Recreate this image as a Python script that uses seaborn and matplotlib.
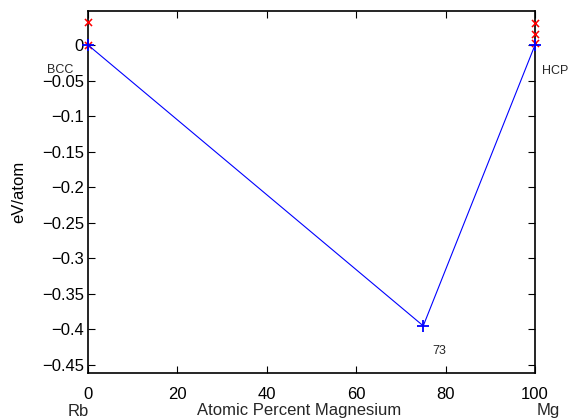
import matplotlib
matplotlib.use("Agg")
import matplotlib.pyplot as plt
import seaborn as sns
import pandas as pd

# Convex hull of formation energies (Rb-Mg)
hull_x = [0, 75, 100]
hull_e = [0.0, -0.395, 0.0]

# Structures above the hull
above_x = [0, 0, 100, 100, 100]
above_e = [0.033, 0.0, 0.031, 0.0155, 0.0025]

yticks = [0, -0.05, -0.1, -0.15, -0.2, -0.25, -0.3, -0.35, -0.4, -0.45]
xticks = [0, 20, 40, 60, 80, 100]

sns.set_theme(style="white")
plt.rcParams["font.family"] = ["Liberation Sans", "DejaVu Sans"]

W, H = 572, 420
fig = plt.figure(figsize=(W / 100, H / 100), dpi=100)
left, right, top, bottom = 88, 535, 11, 373
ax = fig.add_axes([left / W, 1 - bottom / H, (right - left) / W, (bottom - top) / H])

hull_df = pd.DataFrame({"x": hull_x, "e": hull_e})
above_df = pd.DataFrame({"x": above_x, "e": above_e})

sns.scatterplot(data=above_df, x="x", y="e", ax=ax, marker="x", color="red",
                s=26, linewidth=1.1, zorder=3, clip_on=False)
sns.lineplot(data=hull_df, x="x", y="e", ax=ax, color="blue", linewidth=0.8,
             marker="+", markersize=9, markeredgewidth=1.3, markeredgecolor="blue",
             zorder=4, clip_on=False)

ax.set_xlim(0, 100)
ax.set_ylim(-0.4613, 0.0478)
ax.set_xticks(xticks)
ax.set_yticks(yticks)
ax.set_yticklabels(["0" if v == 0 else f"{v:g}".replace("-", "\u2212") for v in yticks])
ax.set_xticklabels([str(v) for v in xticks])

ax.tick_params(direction="in", length=5, width=0.8, labelsize=12, colors="black",
               top=True, right=True, bottom=True, left=True, pad=3)
ax.tick_params(axis="x", pad=10)
for sp in ax.spines.values():
    sp.set_visible(True)
    sp.set_color("black")
    sp.set_linewidth(1.2)

ax.set_xlabel("")
ax.set_ylabel("eV/atom", fontsize=12, color="black", labelpad=11)

# Composition end-member labels and axis title
fig.text(78 / W, 1 - 411 / H, "Rb", ha="center", va="center", fontsize=12)
fig.text(548 / W, 1 - 411 / H, "Mg", ha="center", va="center", fontsize=12)
fig.text(197 / W, 1 - 411 / H, "Atomic Percent Magnesium", ha="left", va="center", fontsize=12)

# Phase / structure annotations
fig.text(47 / W, 1 - 70 / H, "BCC", fontsize=9, ha="left", va="center")
fig.text(542 / W, 1 - 71 / H, "HCP", fontsize=9, ha="left", va="center")
fig.text(432 / W, 1 - 351 / H, "73", fontsize=9, ha="left", va="center")

fig.savefig("out.png", dpi=100)
